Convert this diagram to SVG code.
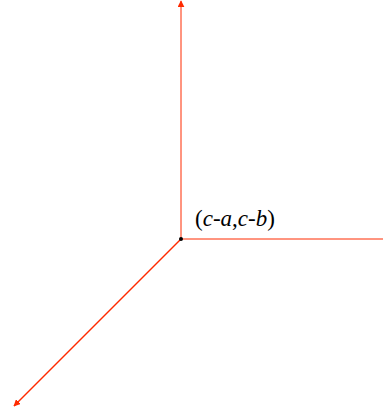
<svg xmlns="http://www.w3.org/2000/svg" width="383" height="412" viewBox="0 0 383 412">
<style>
.ax{stroke:#ff2a00;stroke-width:1;fill:none}
.diag{stroke-width:1.4}
.lbl{font-family:"Liberation Serif","Times New Roman",serif;font-size:23px;fill:#000}
</style>
<defs>
<marker id="arr" viewBox="0 0 10 10" refX="9" refY="5" markerWidth="7" markerHeight="7" orient="auto" markerUnits="userSpaceOnUse">
<path d="M0,0 L10,5 L0,10 Z" fill="#ff2a00"/>
</marker>
</defs>
<g id="connectors">
<line class="ax" x1="181" y1="239" x2="181" y2="1" marker-end="url(#arr)"/>
<line class="ax" x1="181" y1="239" x2="383" y2="239"/>
<line class="ax diag" x1="181" y1="239" x2="14" y2="406" marker-end="url(#arr)"/>
</g>
<g id="origin">
<circle cx="181" cy="239" r="2" fill="#000"/>
<text class="lbl" x="195" y="226">(<tspan font-style="italic">c</tspan>-<tspan font-style="italic">a</tspan>,<tspan font-style="italic">c</tspan>-<tspan font-style="italic">b</tspan>)</text>
</g>
</svg>
